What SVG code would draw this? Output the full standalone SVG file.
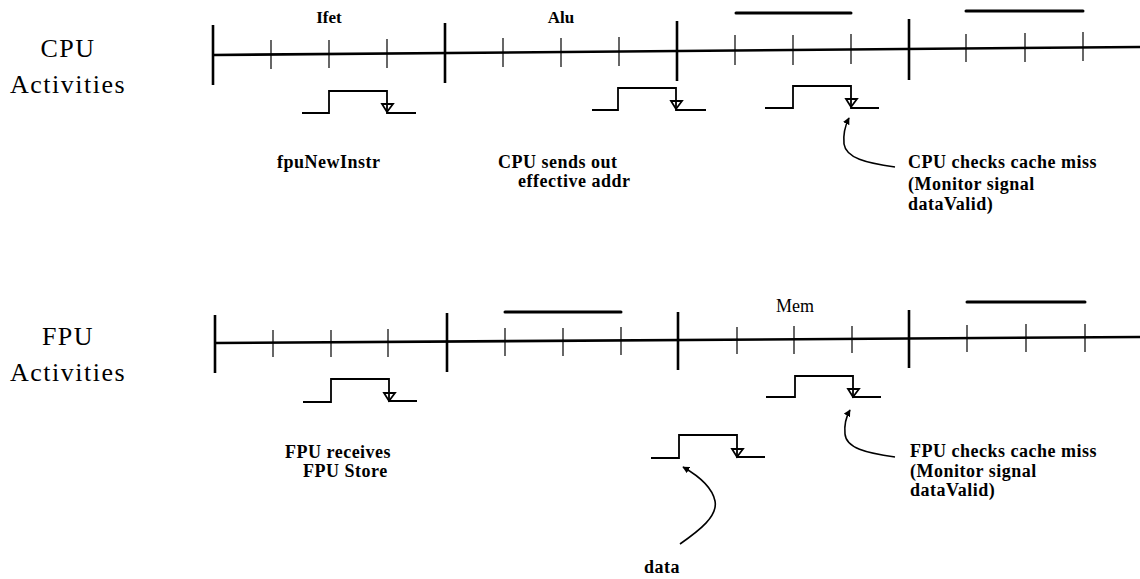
<svg xmlns="http://www.w3.org/2000/svg" width="1140" height="579" viewBox="0 0 1140 579">
<defs>
<style>
.axis{stroke:#000;stroke-width:2.6;fill:none}
.major{stroke:#000;stroke-width:2.6}
.minor{stroke:#000;stroke-width:1.2}
.bar{stroke:#000;stroke-width:3;stroke-linecap:round}
.sig{stroke:#000;stroke-width:1.8;fill:none}
.tri{stroke:#000;stroke-width:1.8;fill:none}
.curve{stroke:#000;stroke-width:1.6;fill:none}
.big{font-family:"Liberation Serif",serif;font-size:26px;letter-spacing:1.5px;fill:#000}
.lbl{font-family:"Liberation Serif",serif;font-size:18px;font-weight:bold;letter-spacing:0.5px;fill:#000}
.phase{font-family:"Liberation Serif",serif;font-size:17px;font-weight:bold;fill:#000}
.mem{font-family:"Liberation Serif",serif;font-size:18px;fill:#000}
</style>
<marker id="ah" viewBox="0 0 10 10" refX="9" refY="5" markerWidth="7" markerHeight="7" orient="auto" markerUnits="userSpaceOnUse">
<path d="M0,0 L10,5 L0,10 z" fill="#000"/>
</marker>
</defs>
<rect width="1140" height="579" fill="#fff"/>

<g id="row-labels">
<text class="big" x="68" y="57" text-anchor="middle">CPU</text>
<text class="big" x="68" y="93" text-anchor="middle">Activities</text>
<text class="big" x="68" y="345" text-anchor="middle">FPU</text>
<text class="big" x="68" y="381" text-anchor="middle">Activities</text>
</g>

<g id="cpu-timeline">
<line class="axis" x1="213" y1="55" x2="1140" y2="47"/>
<line class="major" x1="213" y1="25" x2="213" y2="85"/>
<line class="major" x1="445" y1="23" x2="445" y2="83"/>
<line class="major" x1="677" y1="21" x2="677" y2="81"/>
<line class="major" x1="909" y1="19" x2="909" y2="80"/>
<g class="minor">
<line x1="271" y1="40" x2="271" y2="69"/>
<line x1="329" y1="40" x2="329" y2="68"/>
<line x1="387" y1="39" x2="387" y2="68"/>
<line x1="503" y1="38" x2="503" y2="67"/>
<line x1="561" y1="38" x2="561" y2="67"/>
<line x1="619" y1="37" x2="619" y2="66"/>
<line x1="735" y1="35" x2="735" y2="65"/>
<line x1="793" y1="35" x2="793" y2="65"/>
<line x1="851" y1="34" x2="851" y2="64"/>
<line x1="966" y1="34" x2="966" y2="62"/>
<line x1="1025" y1="33" x2="1025" y2="62"/>
<line x1="1083" y1="32" x2="1083" y2="61"/>
</g>
<line class="bar" x1="736" y1="13" x2="851" y2="13"/>
<line class="bar" x1="966" y1="11" x2="1083" y2="11"/>
<text class="phase" x="329" y="23" text-anchor="middle">Ifet</text>
<text class="phase" x="561" y="23" text-anchor="middle">Alu</text>
</g>

<g id="fpu-timeline">
<line class="axis" x1="215" y1="343" x2="1140" y2="337"/>
<line class="major" x1="215" y1="315" x2="215" y2="373"/>
<line class="major" x1="447" y1="313" x2="447" y2="372"/>
<line class="major" x1="678" y1="312" x2="678" y2="370"/>
<line class="major" x1="909" y1="310" x2="909" y2="368"/>
<g class="minor">
<line x1="273" y1="330" x2="273" y2="357"/>
<line x1="331" y1="330" x2="331" y2="357"/>
<line x1="388" y1="329" x2="388" y2="357"/>
<line x1="505" y1="328" x2="505" y2="356"/>
<line x1="563" y1="328" x2="563" y2="356"/>
<line x1="621" y1="327" x2="621" y2="355"/>
<line x1="737" y1="327" x2="737" y2="354"/>
<line x1="794" y1="326" x2="794" y2="354"/>
<line x1="852" y1="326" x2="852" y2="353"/>
<line x1="967" y1="325" x2="967" y2="352"/>
<line x1="1026" y1="324" x2="1026" y2="352"/>
<line x1="1085" y1="324" x2="1085" y2="352"/>
</g>
<line class="bar" x1="505" y1="312" x2="621" y2="312"/>
<line class="bar" x1="967" y1="302" x2="1085" y2="302"/>
<text class="mem" x="795" y="312" text-anchor="middle">Mem</text>
</g>

<g id="cpu-pulse-1">
<path class="sig" d="M302,113 H329 V91 H387 V113 H416"/>
<path class="tri" d="M382,104 H393 L387,112 Z"/>
</g>
<g id="cpu-pulse-2">
<path class="sig" d="M592,110 H618 V88 H676 V110 H706"/>
<path class="tri" d="M671,101 H682 L676,109 Z"/>
</g>
<g id="cpu-pulse-3">
<path class="sig" d="M765,108 H793 V86 H851 V108 H879"/>
<path class="tri" d="M846,99 H857 L851,107 Z"/>
</g>

<g id="fpu-pulse-1">
<path class="sig" d="M303,402 H331 V379 H389 V401 H417"/>
<path class="tri" d="M384,393 H395 L389,401 Z"/>
</g>
<g id="fpu-pulse-2">
<path class="sig" d="M766,397 H795 V376 H853 V397 H881"/>
<path class="tri" d="M848,389 H859 L853,397 Z"/>
</g>
<g id="data-pulse">
<path class="sig" d="M651,458 H679 V435 H737 V457 H765"/>
<path class="tri" d="M732,449 H743 L737,457 Z"/>
</g>

<g id="connectors">
<path class="curve" marker-end="url(#ah)" d="M895,167 C866,163 846,158 844,144 C843,134 845,126 849,118"/>
<path class="curve" marker-end="url(#ah)" d="M895,457 C866,453 846,448 845,434 C844,424 846,417 850,410"/>
<path class="curve" marker-end="url(#ah)" d="M680,544 C700,530 718,516 715,501 C712,486 697,475 683,467"/>
</g>

<g id="labels">
<text class="lbl" x="277" y="168">fpuNewInstr</text>
<text class="lbl" x="498" y="168">CPU sends out</text>
<text class="lbl" x="518" y="187">effective addr</text>
<text class="lbl" x="908" y="168">CPU checks cache miss</text>
<text class="lbl" x="908" y="190">(Monitor signal</text>
<text class="lbl" x="908" y="210">dataValid)</text>
<text class="lbl" x="285" y="458">FPU receives</text>
<text class="lbl" x="303" y="477">FPU Store</text>
<text class="lbl" x="910" y="457">FPU checks cache miss</text>
<text class="lbl" x="910" y="477">(Monitor signal</text>
<text class="lbl" x="910" y="496">dataValid)</text>
<text class="lbl" x="662" y="573" text-anchor="middle">data</text>
</g>
</svg>
